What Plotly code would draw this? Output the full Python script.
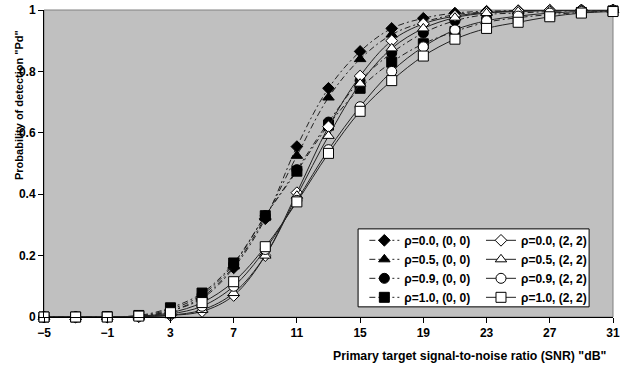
import plotly.graph_objects as go

snr = [-5, -3, -1, 1, 3, 5, 7, 9, 11, 13, 15, 17, 19, 21, 23, 25, 27, 29, 31]

pd_r00_00 = [0, 0, 0, 0.002, 0.02, 0.06, 0.16, 0.32, 0.555, 0.745, 0.865, 0.94, 0.973, 0.99, 0.996, 0.998, 0.999, 1, 1]
pd_r05_00 = [0, 0, 0, 0.002, 0.02, 0.065, 0.165, 0.325, 0.525, 0.715, 0.84, 0.92, 0.96, 0.985, 0.993, 0.997, 0.999, 1, 1]
pd_r09_00 = [0, 0, 0.001, 0.004, 0.025, 0.072, 0.172, 0.33, 0.48, 0.635, 0.77, 0.86, 0.925, 0.965, 0.985, 0.99, 0.995, 0.998, 1]
pd_r10_00 = [0, 0, 0.001, 0.005, 0.03, 0.078, 0.176, 0.33, 0.475, 0.625, 0.745, 0.83, 0.89, 0.93, 0.96, 0.975, 0.985, 0.992, 0.997]
pd_r00_22 = [0, 0, 0, 0.001, 0.005, 0.018, 0.07, 0.2, 0.405, 0.62, 0.785, 0.9, 0.955, 0.98, 0.992, 0.997, 0.999, 1, 1]
pd_r05_22 = [0, 0, 0, 0.001, 0.006, 0.023, 0.078, 0.2, 0.395, 0.59, 0.76, 0.875, 0.94, 0.975, 0.99, 0.995, 0.998, 1, 1]
pd_r09_22 = [0, 0, 0, 0.002, 0.01, 0.035, 0.1, 0.22, 0.38, 0.545, 0.685, 0.8, 0.88, 0.935, 0.965, 0.98, 0.99, 0.995, 0.998]
pd_r10_22 = [0, 0, 0, 0.003, 0.014, 0.047, 0.115, 0.229, 0.375, 0.533, 0.67, 0.77, 0.85, 0.905, 0.94, 0.96, 0.978, 0.99, 0.995]

x_ticks = [-5, -1, 3, 7, 11, 15, 19, 23, 27, 31]
y_ticks = [0, 0.2, 0.4, 0.6, 0.8, 1]
y_tick_labels = ["0", "0.2", "0.4", "0.6", "0.8", "1"]

FONT = "Arial, Liberation Sans, sans-serif"

series = [
    ("ρ=0.0, (0, 0)", pd_r00_00, "diamond", True, 9),
    ("ρ=0.5, (0, 0)", pd_r05_00, "triangle-up", True, 10),
    ("ρ=0.9, (0, 0)", pd_r09_00, "circle", True, 10),
    ("ρ=1.0, (0, 0)", pd_r10_00, "square", True, 10),
    ("ρ=0.0, (2, 2)", pd_r00_22, "diamond", False, 9),
    ("ρ=0.5, (2, 2)", pd_r05_22, "triangle-up", False, 10),
    ("ρ=0.9, (2, 2)", pd_r09_22, "circle", False, 10),
    ("ρ=1.0, (2, 2)", pd_r10_22, "square", False, 10),
]

fig = go.Figure()
for name, vals, sym, filled, size in series:
    fig.add_trace(go.Scatter(
        x=snr, y=vals, name=name, mode="lines+markers",
        line=dict(color="#222222", width=1, shape="spline",
                  dash="6px,3px,2px,3px" if filled else "solid"),
        marker=dict(symbol=sym, size=size,
                    color="black" if filled else "white",
                    line=dict(color="black", width=1)),
        cliponaxis=False,
        legend="legend" if filled else "legend2",
    ))

bold = dict(family=FONT, size=12, color="black", weight="bold")

fig.update_layout(
    width=629, height=366,
    margin=dict(l=44, r=16, t=10, b=49, autoexpand=False),
    paper_bgcolor="white", plot_bgcolor="#C0C0C0",
    font=dict(family=FONT, size=12, color="black"),
    showlegend=True,
    legend=dict(x=0.563, y=0.297, xanchor="left", yanchor="top",
                bgcolor="rgba(0,0,0,0)", borderwidth=0, font=bold,
                tracegroupgap=0),
    legend2=dict(x=0.768, y=0.297, xanchor="left", yanchor="top",
                 bgcolor="rgba(0,0,0,0)", borderwidth=0, font=bold,
                 tracegroupgap=0),
    xaxis=dict(range=[-5, 31], tickvals=x_ticks, showgrid=False, zeroline=False,
               showline=True, linecolor="black", linewidth=1,
               ticks="outside", ticklen=5, tickcolor="black", tickfont=bold),
    yaxis=dict(range=[0, 1], tickvals=y_ticks, ticktext=y_tick_labels,
               showgrid=False, zeroline=False,
               showline=True, linecolor="black", linewidth=1,
               ticks="outside", ticklen=5, tickcolor="black", tickfont=bold),
    shapes=[
        dict(type="rect", xref="paper", yref="paper", x0=0, x1=1, y0=0, y1=1,
             line=dict(color="#808080", width=1), layer="below"),
        dict(type="rect", xref="paper", yref="paper", x0=0.552, x1=0.958,
             y0=0.033, y1=0.287, fillcolor="white",
             line=dict(color="black", width=1), layer="above"),
    ],
    annotations=[
        dict(text='Probability of detection "Pd"', xref="paper", yref="paper",
             x=-0.0439, y=0.6906, xanchor="center", yanchor="middle",
             textangle=-90, showarrow=False,
             font=dict(family=FONT, size=11, color="black", weight="bold")),
        dict(text='Primary target signal-to-noise ratio (SNR) "dB"', xref="paper",
             yref="paper", x=0.748, y=-0.127, xanchor="center", yanchor="middle",
             showarrow=False,
             font=dict(family=FONT, size=12.3, color="black", weight="bold")),
    ],
)

fig.write_html("out.html", config={"displayModeBar": False},
               post_script="document.body.style.margin='0';")
